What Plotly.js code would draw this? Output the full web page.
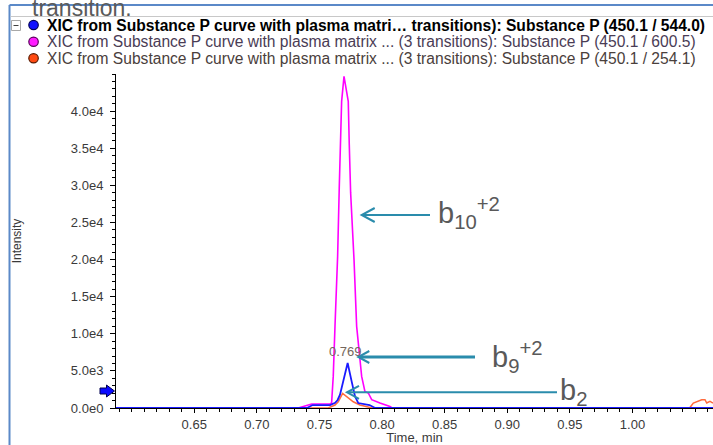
<!DOCTYPE html>
<html><head><meta charset="utf-8">
<script src="https://cdn.plot.ly/plotly-3.0.1.min.js"></script>
<style>html,body{margin:0;padding:0;background:#fff;overflow:hidden}#chart{width:713px;height:445px}</style>
</head><body><div id="chart"></div>
<script>
// ---------- data ----------
const seriesNames = [
  'XIC from Substance P curve with plasma matri\u2026 transitions): Substance P (450.1 / 544.0)',
  'XIC from Substance P curve with plasma matrix ... (3 transitions): Substance P (450.1 / 600.5)',
  'XIC from Substance P curve with plasma matrix ... (3 transitions): Substance P (450.1 / 254.1)'
];
const topText = 'transition.';

// 450.1 / 600.5 (magenta)
const pinkTime = [0.5875, 0.733, 0.7438, 0.7584, 0.7597, 0.7610, 0.7624, 0.7645, 0.7658, 0.7669, 0.7677, 0.7696,
  0.7730, 0.7738, 0.7749, 0.7776, 0.7797, 0.7837, 0.7863, 0.7890, 0.7917, 0.7983, 0.8063, 0.8080, 1.0643];
const pinkIntensity = [0, 0, 540, 540, 670, 4260, 11000, 20430, 29650, 35490, 41320, 44690,
  41320, 35490, 28980, 19990, 11000, 4260, 2240, 2020, 1120, 670, 220, 0, 0];

// 450.1 / 254.1 (orange)
const orangeTime = [0.5875, 0.757, 0.7624, 0.7650, 0.7685, 0.7730, 0.7770, 0.7823, 0.7877, 0.7920,
  1.0440, 1.0459, 1.0486, 1.0513, 1.0553, 1.0579, 1.0593, 1.0619, 1.0643];
const orangeIntensity = [0, 0, 400, 840, 1960, 1300, 840, 400, 150, 0,
  0, 60, 670, 890, 1120, 1120, 670, 890, 670];

// 450.1 / 544.0 (blue)
const blueTime = [0.5875, 0.7400, 0.7445, 0.7585, 0.7625, 0.7645, 0.7664, 0.7690, 0.7725, 0.7757, 0.7784, 0.7810,
  0.7900, 0.7945, 1.0643];
const blueIntensity = [0, 0, 400, 400, 700, 1080, 1790, 3590, 6060, 3590, 1560, 670,
  400, 0, 0];

const xTickVals = [0.65, 0.70, 0.75, 0.80, 0.85, 0.90, 0.95, 1.00];
const xTickText = ['0.65', '0.70', '0.75', '0.80', '0.85', '0.90', '0.95', '1.00'];
const yTickVals = [0, 5000, 10000, 15000, 20000, 25000, 30000, 35000, 40000];
const yTickText = ['0.0e0', '5.0e3', '1.0e4', '1.5e4', '2.0e4', '2.5e4', '3.0e4', '3.5e4', '4.0e4'];
const peakLabel = '0.769';
const fragmentLabels = ['b<sub>10</sub><sup>+2</sup>', 'b<sub>9</sub><sup>+2</sup>', 'b<sub>2</sub>'];

// ---------- layout geometry ----------
const W = 713, H = 445;
const M = {l: 116, r: 0, t: 74, b: 37};
const PW = W - M.l - M.r, PH = H - M.t - M.b;
const xRange = [0.5875, 1.0643], yRange = [0, 45000];
const px = p => (p - M.l) / PW;                 // pixel -> paper x
const py = p => (H - M.b - p) / PH;             // pixel -> paper y
const dx = p => xRange[0] + (p - M.l) / PW * (xRange[1] - xRange[0]); // pixel -> data x
const dy = p => yRange[0] + (H - M.b - p) / PH * (yRange[1] - yRange[0]);

const FONT = 'Liberation Sans, Arial, sans-serif';
const ARROW = '#2a8cac';

const traces = [
  {x: pinkTime, y: pinkIntensity, name: seriesNames[1], type: 'scatter', mode: 'lines',
   line: {color: '#ff00ff', width: 1.6}, hoverinfo: 'skip'},
  {x: orangeTime, y: orangeIntensity, name: seriesNames[2], type: 'scatter', mode: 'lines',
   line: {color: '#ff6a3d', width: 1.5}, hoverinfo: 'skip'},
  {x: blueTime, y: blueIntensity, name: seriesNames[0], type: 'scatter', mode: 'lines',
   line: {color: '#1a1aff', width: 1.8}, hoverinfo: 'skip'}
];

const legendColors = [['#1010ff', '#00005a'], ['#ff1cff', '#5a005a'], ['#ff4a12', '#5a1a00']];
const legendText = ['#000000', '#4a3c55', '#4a403c'];
const rowY = [25, 41.7, 58.3];

const shapes = [
  // frame
  {type: 'line', xref: 'paper', yref: 'paper', x0: px(9.5), x1: px(713), y0: py(5), y1: py(5), line: {color: '#5b89c8', width: 2}},
  {type: 'line', xref: 'paper', yref: 'paper', x0: px(9.5), x1: px(9.5), y0: py(5), y1: py(445), line: {color: '#5b89c8', width: 2}},
  {type: 'line', xref: 'paper', yref: 'paper', x0: px(10.5), x1: px(713), y0: py(16.5), y1: py(16.5), line: {color: '#c8c8c8', width: 1}},
  // collapse box
  {type: 'rect', xref: 'paper', yref: 'paper', x0: px(11.5), x1: px(20.5), y0: py(30.5), y1: py(20.5), line: {color: '#a8a8a8', width: 1}},
  {type: 'line', xref: 'paper', yref: 'paper', x0: px(13.5), x1: px(18.5), y0: py(25.5), y1: py(25.5), line: {color: '#404040', width: 1}},
  // blue threshold arrow on y axis
  {type: 'path', xref: 'paper', yref: 'paper',
   path: `M${px(100)},${py(388)} L${px(106.5)},${py(388)} L${px(106.5)},${py(385)} L${px(114.5)},${py(391)} L${px(106.5)},${py(397)} L${px(106.5)},${py(394)} L${px(100)},${py(394)} Z`,
   fillcolor: '#0a0aff', line: {color: '#000050', width: 1}}
];
rowY.forEach((yy, i) => {
  shapes.push({type: 'circle', xref: 'paper', yref: 'paper', x0: px(28.8), x1: px(38.3), y0: py(yy + 4.6), y1: py(yy - 4.6),
    fillcolor: legendColors[i][0], line: {color: legendColors[i][1], width: 1.2}});
});
// fragment arrows (line + open chevron head)
const arrows = [
  {head: [361.7, 215], tail: [430, 215], w: 2, hl: 13, hh: 7},
  {head: [358.3, 357], tail: [475, 357], w: 3, hl: 11, hh: 6},
  {head: [347, 392.3], tail: [557, 392.3], w: 2, hl: 12, hh: 6.5}
];
arrows.forEach(a => {
  shapes.push({type: 'line', xref: 'x', yref: 'y', x0: dx(a.head[0] + 1), y0: dy(a.head[1]), x1: dx(a.tail[0]), y1: dy(a.tail[1]),
    line: {color: ARROW, width: a.w}});
  shapes.push({type: 'path', xref: 'x', yref: 'y',
    path: `M${dx(a.head[0] + a.hl)},${dy(a.head[1] - a.hh)} L${dx(a.head[0])},${dy(a.head[1])} L${dx(a.head[0] + a.hl)},${dy(a.head[1] + a.hh)}`,
    line: {color: ARROW, width: 2}});
});

const annotations = [
  {xref: 'paper', yref: 'paper', x: px(31), y: py(22), xanchor: 'left', yanchor: 'bottom', showarrow: false,
   text: topText, font: {family: FONT, size: 23, color: '#5a5a5a'}, borderpad: 0},
];
seriesNames.forEach((s, i) => {
  annotations.push({xref: 'paper', yref: 'paper', x: px(45.5), y: py(rowY[i]), xanchor: 'left', yanchor: 'middle',
    showarrow: false, text: i === 0 ? '<b>' + s + '</b>' : s, borderpad: 0,
    font: {family: FONT, size: i === 0 ? 15.6 : 15.6, color: legendText[i]}});
});
// peak apex label
annotations.push({xref: 'x', yref: 'y', x: dx(345), y: dy(351), showarrow: false, text: peakLabel,
  font: {family: FONT, size: 13, color: '#74665c'}, borderpad: 0});
// fragment labels
const labelPos = [[437, 213], [491, 357], [559, 392]];
fragmentLabels.forEach((t, i) => annotations.push({xref: 'x', yref: 'y', x: dx(labelPos[i][0]), y: dy(labelPos[i][1]),
  xanchor: 'left', yanchor: 'middle', showarrow: false, text: t, borderpad: 0,
  font: {family: FONT, size: 29, color: '#595959'}}));

const layout = {
  width: W, height: H, margin: M, paper_bgcolor: '#ffffff', plot_bgcolor: '#ffffff', showlegend: false,
  font: {family: FONT, size: 13, color: '#3a3a3a'},
  xaxis: {range: xRange, showgrid: false, zeroline: false, showline: true, linecolor: '#000', linewidth: 1,
    tickmode: 'array', tickvals: xTickVals, ticktext: xTickText, ticks: 'outside', ticklen: 4, tickcolor: '#000',
    tickfont: {family: FONT, size: 13, color: '#3a3a3a'},
    minor: {dtick: 0.01, tick0: 0, ticks: 'outside', ticklen: 3, tickcolor: '#000', showgrid: false},
    title: {text: 'Time, min', font: {family: FONT, size: 13, color: '#3a3a3a'}, standoff: 8},
    automargin: false, fixedrange: true},
  yaxis: {range: yRange, showgrid: false, zeroline: false, showline: true, linecolor: '#000', linewidth: 1,
    tickmode: 'array', tickvals: yTickVals, ticktext: yTickText, ticks: 'outside', ticklen: 5, tickcolor: '#000',
    tickfont: {family: FONT, size: 13, color: '#3a3a3a'}, ticklabelstandoff: 4,
    minor: {dtick: 1000, tick0: 0, ticks: 'outside', ticklen: 3, tickcolor: '#000', showgrid: false},
    title: {text: 'Intensity', font: {family: FONT, size: 12, color: '#3a3a3a'}, standoff: 46},
    automargin: false, fixedrange: true},
  shapes: shapes,
  annotations: annotations
};

Plotly.newPlot('chart', traces, layout, {staticPlot: true, displayModeBar: false});
</script>
</body></html>
